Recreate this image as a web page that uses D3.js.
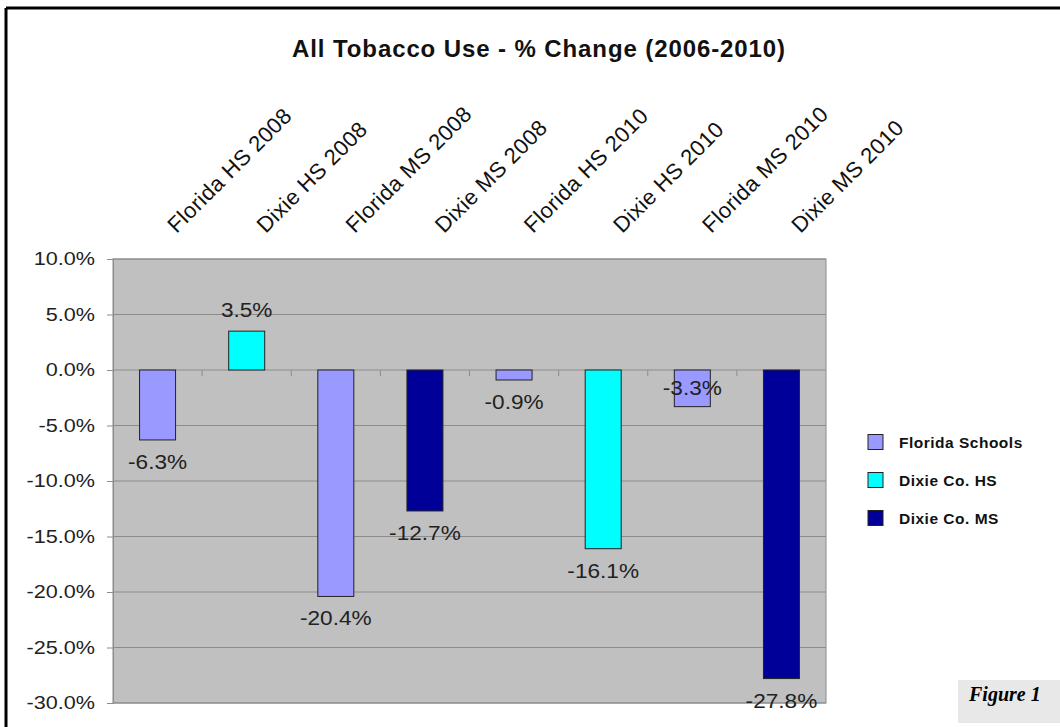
<!DOCTYPE html>
<html>
<head>
<meta charset="utf-8">
<script src="https://cdn.jsdelivr.net/npm/d3@7"></script>
<style>
  html, body { margin: 0; padding: 0; background: #fff; }
  svg { display: block; }
</style>
</head>
<body>
<svg id="chart" width="1060" height="727"></svg>
<script>
// Tobacco use change by school group, 2006 baseline
const categories = ["Florida HS 2008", "Dixie HS 2008", "Florida MS 2008", "Dixie MS 2008",
                    "Florida HS 2010", "Dixie HS 2010", "Florida MS 2010", "Dixie MS 2010"];
const values = [-6.3, 3.5, -20.4, -12.7, -0.9, -16.1, -3.3, -27.8];
const groups = ["Florida Schools", "Dixie Co. HS", "Florida Schools", "Dixie Co. MS",
                "Florida Schools", "Dixie Co. HS", "Florida Schools", "Dixie Co. MS"];
const seriesNames = ["Florida Schools", "Dixie Co. HS", "Dixie Co. MS"];
const seriesColors = ["#9999ff", "#00ffff", "#000099"];
const yTicks = [10, 5, 0, -5, -10, -15, -20, -25, -30];
const titleText = "All Tobacco Use - % Change (2006-2010)";
const figureLabel = "Figure 1";

const svg = d3.select("#chart");
const W = 1060, H = 727;
const plot = { left: 113, right: 826, top: 259, bottom: 703 };
const SANS = "Liberation Sans, Arial, Helvetica, sans-serif";

const x = d3.scaleBand().domain(categories).range([plot.left, plot.right]).paddingInner(0).paddingOuter(0);
const y = d3.scaleLinear().domain([-30, 10]).range([plot.bottom, plot.top]);
const color = d3.scaleOrdinal().domain(seriesNames).range(seriesColors);
const fmt = v => v.toFixed(1) + "%";

// page frame (top and left rules)
svg.append("line").attr("x1", 6).attr("x2", W).attr("y1", 8).attr("y2", 8)
  .attr("stroke", "#000").attr("stroke-width", 3);
svg.append("line").attr("x1", 6).attr("x2", 6).attr("y1", 8).attr("y2", H)
  .attr("stroke", "#000").attr("stroke-width", 3);

// title
svg.append("text").attr("x", 539).attr("y", 57).attr("text-anchor", "middle")
  .attr("font-family", SANS).attr("font-weight", "bold")
  .attr("font-size", 24).attr("letter-spacing", 0.9).attr("fill", "#111").text(titleText);

// plot background
svg.append("rect").attr("x", plot.left).attr("y", plot.top)
  .attr("width", plot.right - plot.left).attr("height", plot.bottom - plot.top)
  .attr("fill", "#c0c0c0").attr("stroke", "#8c8c8c").attr("stroke-width", 1);

// gridlines
svg.append("g").selectAll("line").data(yTicks).join("line")
  .attr("x1", plot.left).attr("x2", plot.right)
  .attr("y1", d => y(d)).attr("y2", d => y(d))
  .attr("stroke", "#8c8c8c").attr("stroke-width", 1);

// y axis
const yAxis = d3.axisLeft(y).tickValues(yTicks).tickSize(6).tickPadding(0).tickFormat(fmt);
const gy = svg.append("g").attr("transform", `translate(${plot.left},0)`).call(yAxis);
gy.select(".domain").attr("stroke", "#8c8c8c");
gy.selectAll(".tick line").attr("stroke", "#8c8c8c");
gy.selectAll(".tick text")
  .attr("x", 0)
  .attr("transform", "translate(-18,0) scale(1.2,1)")
  .attr("font-family", SANS).attr("font-size", 18).attr("fill", "#222");

// category separators on the zero line
svg.append("g").selectAll("line").data(categories.slice(1)).join("line")
  .attr("x1", d => x(d)).attr("x2", d => x(d))
  .attr("y1", y(0)).attr("y2", y(0) + 6)
  .attr("stroke", "#8c8c8c").attr("stroke-width", 1);

// category labels (rotated above the plot)
svg.append("g").selectAll("text").data(categories).join("text")
  .attr("transform", d => `translate(${x(d) + x.bandwidth() / 2 + 19},${234}) rotate(-45)`)
  .attr("font-family", SANS).attr("font-size", 22).attr("letter-spacing", 0.4)
  .attr("fill", "#111").text(d => d);

// bars
const barW = 36;
svg.append("g").selectAll("rect").data(categories).join("rect")
  .attr("x", d => x(d) + x.bandwidth() / 2 - barW / 2)
  .attr("width", barW)
  .attr("y", (d, i) => y(Math.max(0, values[i])))
  .attr("height", (d, i) => Math.abs(y(values[i]) - y(0)))
  .attr("fill", (d, i) => color(groups[i]))
  .attr("stroke", "#222").attr("stroke-width", 1);

// value labels
const insideLabel = new Set(["Florida MS 2010"]);
svg.append("g").selectAll("text").data(categories).join("text")
  .attr("transform", (d, i) => {
    const v = values[i];
    let ty;
    if (insideLabel.has(d)) ty = y(0) + 25;
    else ty = v >= 0 ? y(v) - 14 : y(v) + 29;
    return `translate(${x(d) + x.bandwidth() / 2},${ty}) scale(1.16,1)`;
  })
  .attr("text-anchor", "middle")
  .attr("font-family", SANS).attr("font-size", 19.5)
  .attr("fill", "#222").text((d, i) => fmt(values[i]));

// legend
const legend = svg.append("g");
seriesNames.forEach((s, i) => {
  const cy = 442 + i * 38;
  legend.append("rect").attr("x", 868).attr("y", cy - 7.5).attr("width", 15).attr("height", 15)
    .attr("fill", color(s)).attr("stroke", "#222").attr("stroke-width", 1);
  legend.append("text").attr("x", 899).attr("y", cy + 5.5)
    .attr("font-family", SANS).attr("font-weight", "bold").attr("letter-spacing", 0.5)
    .attr("font-size", 15.5).attr("fill", "#111").text(s);
});

// figure tag
svg.append("rect").attr("x", 958).attr("y", 680).attr("width", W - 958).attr("height", 43)
  .attr("fill", "#e8e8e8");
svg.append("text").attr("x", 969).attr("y", 701)
  .attr("font-family", "Liberation Serif, Times New Roman, serif").attr("font-weight", "bold")
  .attr("font-style", "italic").attr("font-size", 20).attr("fill", "#000").text(figureLabel);
</script>
</body>
</html>
